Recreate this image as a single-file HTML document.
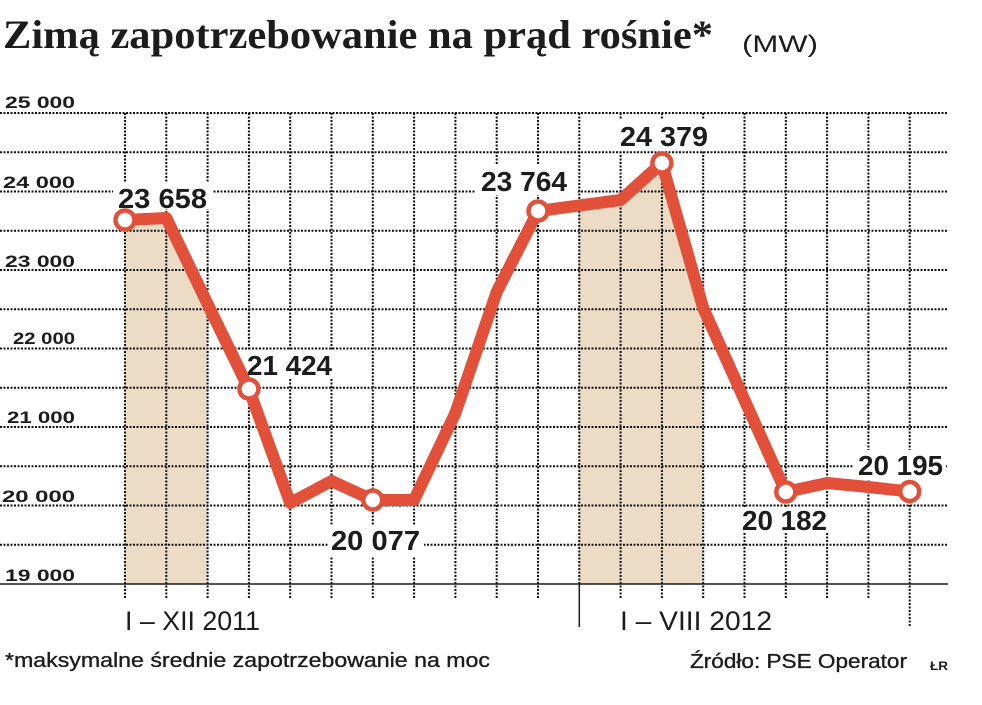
<!DOCTYPE html>
<html>
<head>
<meta charset="utf-8">
<style>
  html,body{margin:0;padding:0;background:#fff;}
  svg{display:block;}
  text{font-family:"Liberation Sans",sans-serif;fill:#1c1c1c;}
</style>
</head>
<body>
<svg width="982" height="705" viewBox="0 0 982 705" xmlns="http://www.w3.org/2000/svg">
  <rect width="982" height="705" fill="#fff"/>

  <!-- Title -->
  <text x="3" y="48" style="font-family:'Liberation Serif',serif;font-weight:bold;font-size:40px" textLength="710" lengthAdjust="spacingAndGlyphs">Zimą zapotrzebowanie na prąd rośnie*</text>
  <text x="742" y="52" style="font-size:24px" textLength="76" lengthAdjust="spacingAndGlyphs">(MW)</text>

  <!-- Shading -->
  <polygon points="125,220 166.3,218 207.6,304 207.6,584 125,584" fill="#ecdcc6"/>
  <polygon points="579.2,205.5 620.5,200 661.9,163 703.2,308 703.2,584 579.2,584" fill="#ecdcc6"/>

  <!-- Horizontal dotted grid -->
  <g stroke="#111" stroke-width="2" stroke-dasharray="2 1.5" fill="none">
    <line x1="0" y1="113" x2="948" y2="113"/>
    <line x1="0" y1="152.25" x2="948" y2="152.25"/>
    <line x1="0" y1="191.5" x2="948" y2="191.5"/>
    <line x1="0" y1="230.75" x2="948" y2="230.75"/>
    <line x1="0" y1="270" x2="948" y2="270"/>
    <line x1="0" y1="309.25" x2="948" y2="309.25"/>
    <line x1="0" y1="348.5" x2="948" y2="348.5"/>
    <line x1="0" y1="387.75" x2="948" y2="387.75"/>
    <line x1="0" y1="427" x2="948" y2="427"/>
    <line x1="0" y1="466.25" x2="948" y2="466.25"/>
    <line x1="0" y1="505.5" x2="948" y2="505.5"/>
    <line x1="0" y1="544.75" x2="948" y2="544.75"/>
  </g>

  <!-- Vertical dotted grid -->
  <g stroke="#111" stroke-width="2" stroke-dasharray="2 1.5" fill="none">
    <line x1="125" y1="113" x2="125" y2="598"/>
    <line x1="166.3" y1="113" x2="166.3" y2="598"/>
    <line x1="207.6" y1="113" x2="207.6" y2="598"/>
    <line x1="248.9" y1="113" x2="248.9" y2="598"/>
    <line x1="290.2" y1="113" x2="290.2" y2="598"/>
    <line x1="331.5" y1="113" x2="331.5" y2="598"/>
    <line x1="372.8" y1="113" x2="372.8" y2="598"/>
    <line x1="414.1" y1="113" x2="414.1" y2="598"/>
    <line x1="455.4" y1="113" x2="455.4" y2="598"/>
    <line x1="496.7" y1="113" x2="496.7" y2="598"/>
    <line x1="538" y1="113" x2="538" y2="598"/>
    <line x1="579.3" y1="113" x2="579.3" y2="584"/>
    <line x1="620.6" y1="113" x2="620.6" y2="598"/>
    <line x1="661.9" y1="113" x2="661.9" y2="598"/>
    <line x1="703.2" y1="113" x2="703.2" y2="598"/>
    <line x1="744.5" y1="113" x2="744.5" y2="598"/>
    <line x1="785.8" y1="113" x2="785.8" y2="598"/>
    <line x1="827.1" y1="113" x2="827.1" y2="598"/>
    <line x1="868.4" y1="113" x2="868.4" y2="598"/>
    <line x1="909.7" y1="113" x2="909.7" y2="627"/>
  </g>

  <!-- Axis & separator -->
  <line x1="0" y1="584" x2="948" y2="584" stroke="#1a1a1a" stroke-width="1.5"/>
  <line x1="579.3" y1="584" x2="579.3" y2="627" stroke="#1a1a1a" stroke-width="1.5"/>

  <!-- Y labels -->
  <g style="font-weight:bold;font-size:17px" text-anchor="end">
    <text x="75" y="108" textLength="70" lengthAdjust="spacingAndGlyphs">25 000</text>
    <text x="75" y="188" textLength="72" lengthAdjust="spacingAndGlyphs">24 000</text>
    <text x="75" y="267" textLength="70" lengthAdjust="spacingAndGlyphs">23 000</text>
    <text x="75" y="344" textLength="62" lengthAdjust="spacingAndGlyphs">22 000</text>
    <text x="75" y="423" textLength="68" lengthAdjust="spacingAndGlyphs">21 000</text>
    <text x="75" y="502" textLength="73" lengthAdjust="spacingAndGlyphs">20 000</text>
    <text x="75" y="581" textLength="70" lengthAdjust="spacingAndGlyphs">19 000</text>
  </g>

  <!-- Label knockouts -->
  <g fill="#fff">
    <rect x="113" y="183" width="100" height="26"/>
    <rect x="243" y="351" width="93" height="27"/>
    <rect x="328" y="526" width="96" height="30"/>
    <rect x="475" y="164" width="103" height="31"/>
    <rect x="615" y="120" width="97" height="30"/>
    <rect x="738" y="508" width="93" height="25"/>
    <rect x="854" y="450" width="92" height="29"/>
  </g>

  <!-- Series line -->
  <polyline fill="none" stroke="#e2503a" stroke-width="12" stroke-linejoin="round" stroke-linecap="round"
    points="125,220 166.3,218 207.6,304 248.9,389 290.2,503 331.5,481 372.8,500 414.1,500 455.4,413 496.7,292 538,211 579.3,205.5 620.6,200 661.9,163 703.2,308 744.5,400 785.8,492 827.1,483 868.4,487 909.7,491.5"/>

  <!-- Markers -->
  <g fill="#fff" stroke="#e2503a" stroke-width="4.5">
    <circle cx="125" cy="220" r="9.5"/>
    <circle cx="248.9" cy="389" r="9.5"/>
    <circle cx="372.8" cy="500" r="9.5"/>
    <circle cx="538" cy="211" r="9.5"/>
    <circle cx="661.9" cy="163" r="9.5"/>
    <circle cx="785.8" cy="492" r="9.5"/>
    <circle cx="909.7" cy="491.5" r="9.5"/>
  </g>

  <!-- Data labels -->
  <g style="font-weight:bold;font-size:28px">
    <text x="118" y="208" textLength="89" lengthAdjust="spacingAndGlyphs">23 658</text>
    <text x="247" y="375" textLength="85" lengthAdjust="spacingAndGlyphs">21 424</text>
    <text x="331" y="550" textLength="89" lengthAdjust="spacingAndGlyphs">20 077</text>
    <text x="481" y="191" textLength="86" lengthAdjust="spacingAndGlyphs">23 764</text>
    <text x="620" y="146" textLength="88" lengthAdjust="spacingAndGlyphs">24 379</text>
    <text x="742" y="530" textLength="85" lengthAdjust="spacingAndGlyphs">20 182</text>
    <text x="858" y="475" textLength="85" lengthAdjust="spacingAndGlyphs">20 195</text>
  </g>

  <!-- Period labels -->
  <text x="125" y="630" style="font-size:27px" textLength="135" lengthAdjust="spacingAndGlyphs">I – XII 2011</text>
  <text x="620" y="630" style="font-size:27px" textLength="152" lengthAdjust="spacingAndGlyphs">I – VIII 2012</text>

  <!-- Footer -->
  <text x="5" y="667" style="font-size:20px" stroke="#1c1c1c" stroke-width="0.35" textLength="485" lengthAdjust="spacingAndGlyphs">*maksymalne średnie zapotrzebowanie na moc</text>
  <text x="690" y="668" style="font-size:20px" stroke="#1c1c1c" stroke-width="0.35" textLength="217" lengthAdjust="spacingAndGlyphs">Źródło: PSE Operator</text>
  <text x="930" y="670" style="font-size:12px;font-weight:bold" textLength="18" lengthAdjust="spacingAndGlyphs">ŁR</text>
</svg>
</body>
</html>
